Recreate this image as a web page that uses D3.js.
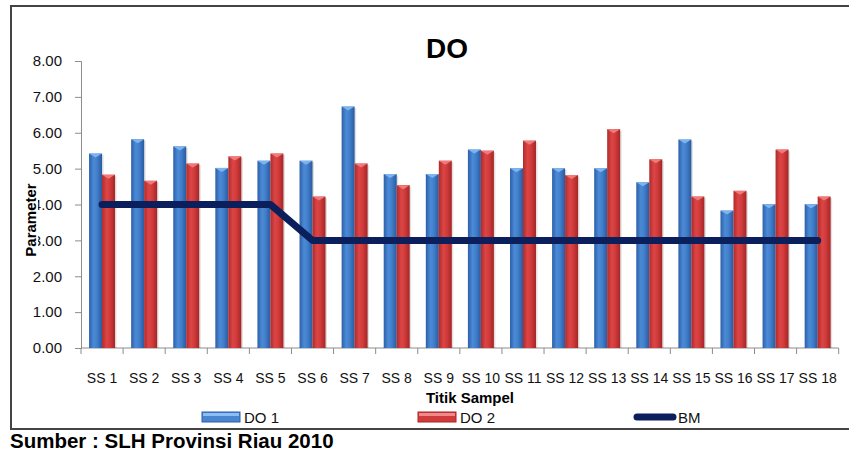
<!DOCTYPE html>
<html>
<head>
<meta charset="utf-8">
<script src="https://cdn.jsdelivr.net/npm/d3@7"></script>
<style>
  body { margin: 0; background: #fff; }
  text { font-family: "Liberation Sans", Arial, sans-serif; }
</style>
</head>
<body>
<div id="chart"></div>
<script>
const categories = ["SS 1", "SS 2", "SS 3", "SS 4", "SS 5", "SS 6", "SS 7", "SS 8", "SS 9",
    "SS 10", "SS 11", "SS 12", "SS 13", "SS 14", "SS 15", "SS 16", "SS 17", "SS 18"];
const do1 = [5.42, 5.82, 5.62, 5.02, 5.22, 5.22, 6.73, 4.85, 4.85, 5.53, 5.01, 5.01, 5.01, 4.62, 5.81, 3.83, 4.01, 4.01];
const do2 = [4.83, 4.66, 5.14, 5.34, 5.42, 4.22, 5.14, 4.54, 5.22, 5.50, 5.78, 4.82, 6.10, 5.26, 4.22, 4.38, 5.53, 4.22];
const bm = [4, 4, 4, 4, 4, 3, 3, 3, 3, 3, 3, 3, 3, 3, 3, 3, 3, 3];
const yTicks = [0, 1, 2, 3, 4, 5, 6, 7, 8];
const seriesNames = ["DO 1", "DO 2", "BM"];

const W = 849, H = 452;
const margin = {top: 61, right: 11, bottom: 104, left: 81};
const width = W - margin.left - margin.right,
    height = H - margin.top - margin.bottom;

const svg = d3.select("#chart")
    .append("svg")
    .attr("width", W)
    .attr("height", H);

// gradients for the 3d-ish bars
const defs = svg.append("defs");
function grad(id, stops) {
    const g = defs.append("linearGradient").attr("id", id)
        .attr("x1", "0%").attr("x2", "100%").attr("y1", "0%").attr("y2", "0%");
    stops.forEach(s => g.append("stop").attr("offset", s[0]).attr("stop-color", s[1]));
}
grad("gBlue", [["0%", "#2c5fa8"], ["35%", "#4b8ad6"], ["60%", "#4380cc"], ["100%", "#2a5aa0"]]);
grad("gRed", [["0%", "#b02a2a"], ["35%", "#dc4545"], ["60%", "#d33c3c"], ["100%", "#a52626"]]);

// frame (open on the right)
svg.append("path")
    .attr("d", "M849,6 H11 V429 H849")
    .attr("fill", "none")
    .attr("stroke", "#444")
    .attr("stroke-width", 2);

const g = svg.append("g")
    .attr("transform", "translate(" + margin.left + "," + margin.top + ")");

const x0 = d3.scaleBand()
    .domain(categories)
    .range([0, width + 0.7])
    .padding(0);
const x1 = d3.scaleBand()
    .domain(["DO 1", "DO 2"])
    .range([0, x0.bandwidth()])
    .paddingInner(0)
    .paddingOuter(0.62);
const y = d3.scaleLinear()
    .domain([0, 8])
    .range([height, 0]);

// y axis
const yAxis = g.append("g")
    .call(d3.axisLeft(y).tickValues(yTicks).tickFormat(d3.format(".2f")).tickSizeOuter(0).tickSize(6).tickPadding(13));
yAxis.select(".domain").attr("stroke", "#8c8c8c");
yAxis.selectAll(".tick line").attr("stroke", "#8c8c8c");
yAxis.selectAll("text").attr("font-size", 15).attr("fill", "#111").attr("font-family", "Liberation Sans, Arial");

// x axis with ticks at category edges
g.append("line")
    .attr("x1", 0).attr("x2", x0.range()[1])
    .attr("y1", height).attr("y2", height)
    .attr("stroke", "#8c8c8c");
g.selectAll(".xtick")
    .data(categories.concat(["end"]))
    .enter().append("line")
    .attr("class", "xtick")
    .attr("x1", (d, i) => i * x0.step()).attr("x2", (d, i) => i * x0.step())
    .attr("y1", height).attr("y2", height + 6)
    .attr("stroke", "#8c8c8c");
g.selectAll(".xlab")
    .data(categories)
    .enter().append("text")
    .attr("class", "xlab")
    .attr("x", d => x0(d) + x0.bandwidth() / 2)
    .attr("y", height + 35)
    .attr("text-anchor", "middle")
    .attr("font-size", 14)
    .attr("fill", "#111")
    .text(d => d);

// bars
const rows = categories.map((c, i) => ({cat: c, vals: [{k: "DO 1", v: do1[i]}, {k: "DO 2", v: do2[i]}]}));
const groups = g.selectAll(".grp")
    .data(rows)
    .enter().append("g")
    .attr("class", "grp")
    .attr("transform", d => "translate(" + x0(d.cat) + ",0)");

groups.selectAll("rect.shadow")
    .data(d => d.vals)
    .enter().append("rect")
    .attr("class", "shadow")
    .attr("x", d => x1(d.k) + 1.5)
    .attr("y", d => y(d.v) + 1.5)
    .attr("width", x1.bandwidth())
    .attr("height", d => height - y(d.v) - 1.5)
    .attr("fill", "#000")
    .attr("opacity", 0.12);

groups.selectAll("rect.bar")
    .data(d => d.vals)
    .enter().append("rect")
    .attr("class", "bar")
    .attr("x", d => x1(d.k))
    .attr("y", d => y(d.v))
    .attr("width", x1.bandwidth())
    .attr("height", d => height - y(d.v))
    .attr("fill", d => d.k === "DO 1" ? "url(#gBlue)" : "url(#gRed)");

// little light cap at top of each bar
groups.selectAll("path.cap")
    .data(d => d.vals)
    .enter().append("path")
    .attr("class", "cap")
    .attr("d", d => {
        const bx = x1(d.k), bw = x1.bandwidth(), by = y(d.v);
        return "M" + bx + "," + by + " H" + (bx + bw) + " L" + (bx + bw * 0.5) + "," + (by + 4) + " Z";
    })
    .attr("fill", d => d.k === "DO 1" ? "#7db4f0" : "#f07a7a");

// BM line
const line = d3.line()
    .x((d, i) => x0(categories[i]) + x0.bandwidth() / 2)
    .y(d => y(d));
g.append("path")
    .datum(bm)
    .attr("d", line)
    .attr("fill", "none")
    .attr("stroke", "#0a1f5c")
    .attr("stroke-width", 7)
    .attr("stroke-linejoin", "round")
    .attr("stroke-linecap", "round");

// title
svg.append("text")
    .attr("x", 447).attr("y", 58)
    .attr("text-anchor", "middle")
    .attr("font-size", 28)
    .attr("font-weight", "bold")
    .attr("fill", "#000")
    .text("DO");

// axis titles
svg.append("text")
    .attr("x", 470).attr("y", 403)
    .attr("text-anchor", "middle")
    .attr("font-size", 15)
    .attr("font-weight", "bold")
    .attr("fill", "#000")
    .text("Titik Sampel");

const yt = svg.append("g").attr("transform", "translate(36,220) rotate(-90)");
yt.append("rect")
    .attr("x", -41).attr("y", -13).attr("width", 82).attr("height", 15)
    .attr("fill", "#fff");
yt.append("text")
    .attr("text-anchor", "middle")
    .attr("font-size", 15)
    .attr("font-weight", "bold")
    .attr("fill", "#000")
    .text("Parameter");

// legend
const legendX = [202, 418, 635];
const leg = svg.selectAll(".leg")
    .data(seriesNames)
    .enter().append("g")
    .attr("class", "leg")
    .attr("transform", (d, i) => "translate(" + legendX[i] + ",417)");
leg.each(function (d, i) {
    const s = d3.select(this);
    if (i < 2) {
        s.append("rect")
            .attr("x", 0).attr("y", -5).attr("width", 38).attr("height", 10)
            .attr("fill", i === 0 ? "#4a86d0" : "#d03c3c")
            .attr("stroke", i === 0 ? "#2c5fa8" : "#a52626");
        s.append("rect")
            .attr("x", 1).attr("y", -4).attr("width", 36).attr("height", 3)
            .attr("fill", i === 0 ? "#8dbdf2" : "#f08a8a");
    } else {
        s.append("line")
            .attr("x1", 2).attr("x2", 38).attr("y1", 0).attr("y2", 0)
            .attr("stroke", "#0a1f5c").attr("stroke-width", 7)
            .attr("stroke-linecap", "round");
    }
    s.append("text")
        .attr("x", i < 2 ? 42 : 43).attr("y", 5.5)
        .attr("font-size", 15)
        .attr("fill", "#111")
        .text(d);
});

// source note
svg.append("text")
    .attr("x", 10).attr("y", 448)
    .attr("font-size", 20.5)
    .attr("font-weight", "bold")
    .attr("fill", "#000")
    .text("Sumber : SLH Provinsi Riau 2010");
</script>
</body>
</html>
